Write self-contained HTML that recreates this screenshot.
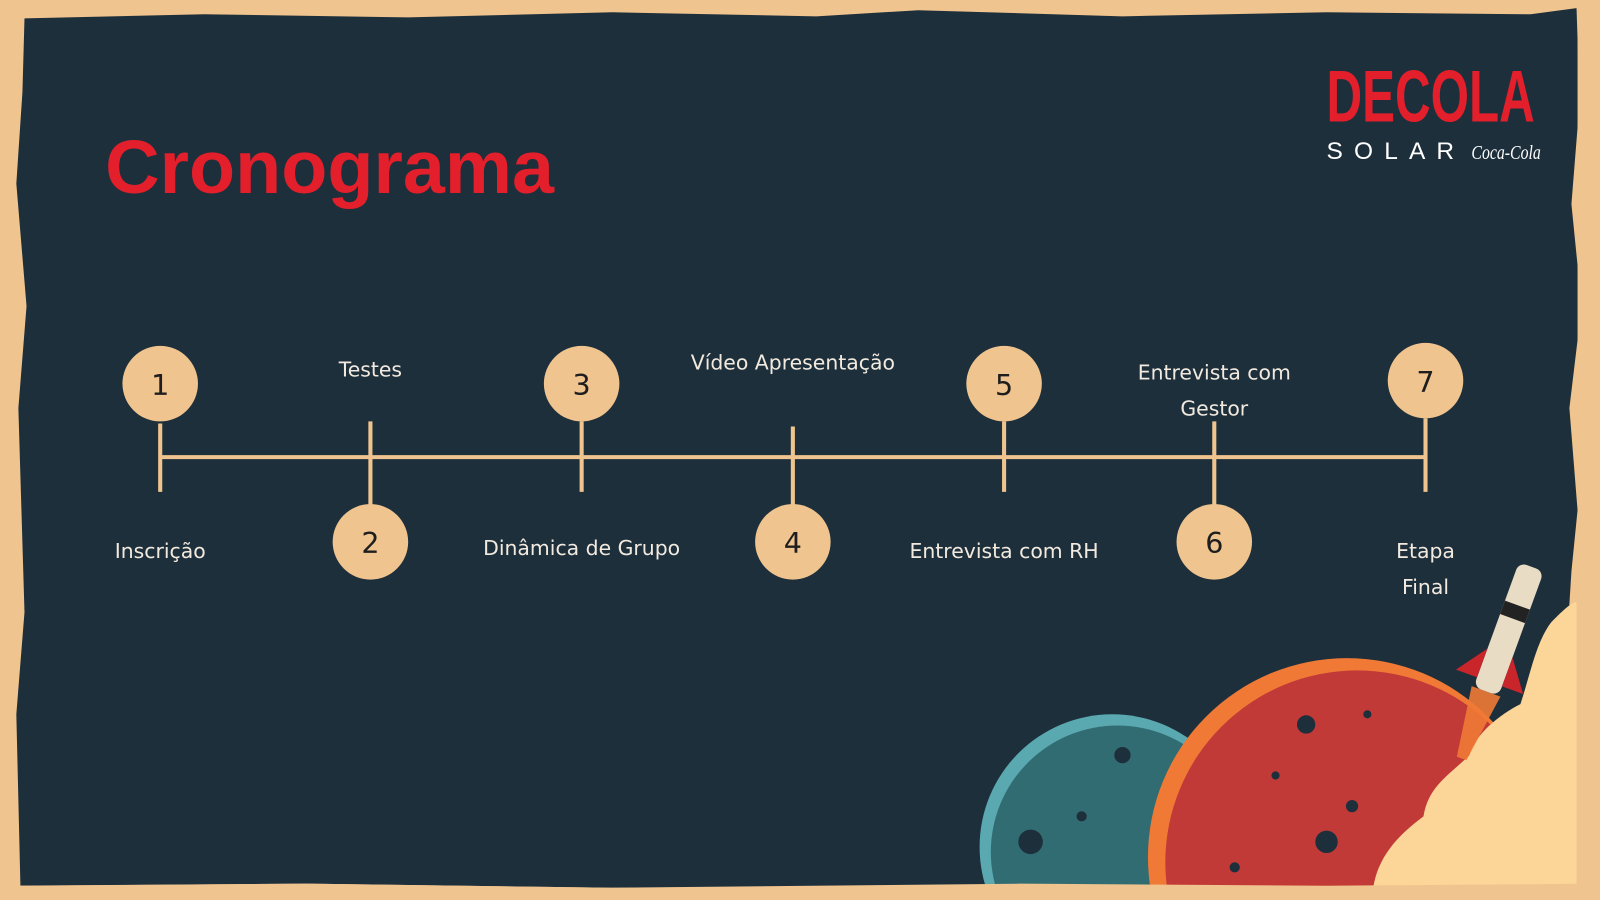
<!DOCTYPE html>
<html><head><meta charset="utf-8"><style>
html,body{margin:0;padding:0;background:#f0c48e;width:1600px;height:900px;overflow:hidden;position:relative;}
svg{display:block;position:absolute;left:0;top:0;overflow:hidden}
text{font-family:"DejaVu Sans","Liberation Sans",sans-serif;}
</style></head><body>
<svg width="1600" height="900" viewBox="0 0 1568 882" preserveAspectRatio="none" xmlns="http://www.w3.org/2000/svg">
<defs><clipPath id="c"><rect width="1568" height="882"/></clipPath></defs>
<g clip-path="url(#c)">
<rect width="1568" height="882" fill="#f0c48e"/>
<path d="M24,18 L200,14 L400,17 L600,12 L800,16 L900,10 L1100,16 L1300,12 L1500,14 L1545,8 L1548,100 L1540,200 L1550,300 L1538,400 L1546,500 L1540,560 L1520,880 L1300,870 L1000,868 L600,870 L300,866 L20,868 L16,700 L24,600 L18,400 L26,300 L16,180 L22,90 Z" fill="#1e2f3c"/>
<text x="103" y="189" font-weight="bold" font-size="74" fill="#e31f2b" style="font-family:'Liberation Sans',sans-serif">Cronograma</text>
<text x="1300" y="119" font-size="72" font-weight="bold" fill="#e31f2b" textLength="204" lengthAdjust="spacingAndGlyphs" style="font-family:'Liberation Sans',sans-serif">DECOLA</text>
<text x="1300" y="156" font-size="24" fill="#fff" textLength="125" lengthAdjust="spacing" style="font-family:'Liberation Sans',sans-serif">SOLAR</text>
<text x="1442" y="156" font-size="20" font-style="italic" fill="#fff" textLength="68" lengthAdjust="spacingAndGlyphs" style="font-family:'Liberation Serif',serif">Coca‑Cola</text>
<g stroke="#f0c48e" stroke-width="4">
<line x1="157" y1="448" x2="1397" y2="448"/>
<line x1="157" y1="415" x2="157" y2="482"/>
<line x1="363" y1="413" x2="363" y2="495"/>
<line x1="570" y1="413" x2="570" y2="482"/>
<line x1="777" y1="418" x2="777" y2="495"/>
<line x1="984" y1="413" x2="984" y2="482"/>
<line x1="1190" y1="413" x2="1190" y2="495"/>
<line x1="1397" y1="410" x2="1397" y2="482"/>
</g>
<g fill="#f0c48e">
<circle cx="157" cy="376" r="37"/><circle cx="363" cy="531" r="37"/>
<circle cx="570" cy="376" r="37"/><circle cx="777" cy="531" r="37"/>
<circle cx="984" cy="376" r="37"/><circle cx="1190" cy="531" r="37"/>
<circle cx="1397" cy="373" r="37"/>
</g>
<g font-size="28" fill="#1e1e1e" text-anchor="middle">
<text x="157" y="387">1</text><text x="363" y="542">2</text><text x="570" y="387">3</text>
<text x="777" y="542">4</text><text x="984" y="387">5</text><text x="1190" y="542">6</text><text x="1397" y="384">7</text>
</g>
<g font-size="20" fill="#f2eadf" text-anchor="middle">
<text x="157" y="547">Inscrição</text>
<text x="363" y="369">Testes</text>
<text x="570" y="544">Dinâmica de Grupo</text>
<text x="777" y="362">Vídeo Apresentação</text>
<text x="984" y="547">Entrevista com RH</text>
<text x="1190" y="372">Entrevista com</text>
<text x="1190" y="407">Gestor</text>
<text x="1397" y="547">Etapa</text>
<text x="1397" y="582">Final</text>
</g>
<circle cx="1090" cy="830" r="130" fill="#5aa8b0"/>
<circle cx="1095" cy="835" r="124" fill="#316c72"/>
<circle cx="1320" cy="840" r="195" fill="#f07a35"/>
<circle cx="1330" cy="845" r="188" fill="#c23a38"/>
<g fill="#1e2f3c">
<circle cx="1010" cy="825" r="12"/><circle cx="1100" cy="740" r="8"/><circle cx="1060" cy="800" r="5"/>
<circle cx="1280" cy="710" r="9"/><circle cx="1325" cy="790" r="6"/><circle cx="1300" cy="825" r="11"/>
<circle cx="1250" cy="760" r="4"/><circle cx="1340" cy="700" r="4"/><circle cx="1210" cy="850" r="5"/>
</g>
<path d="M1345,882 C1345,840 1375,815 1395,800 C1400,770 1420,760 1440,740 C1445,720 1470,700 1490,690 C1500,660 1505,630 1520,610 C1530,600 1540,590 1545,590 L1545,882 Z" fill="#fbd698"/>
<g transform="translate(1470,640) rotate(20)">
<path d="M-15,40 L-5,110 L5,110 L15,40 Z" fill="#f07a35" opacity="0.9"/>
<rect x="-13" y="-90" width="26" height="130" rx="8" fill="#e9dcc4"/>
<rect x="-13" y="-50" width="26" height="14" fill="#222"/>
<path d="M-13,0 L-35,30 L-13,30 Z M13,0 L35,30 L13,30 Z" fill="#c8262b"/>
</g>
<path d="M0,882 L0,868 L300,866 L600,870 L1000,866 L1300,868 L1568,866 L1568,882 Z" fill="#f0c48e"/>
<rect x="1546" y="0" width="22" height="882" fill="#f0c48e"/>
</g>
</svg>
</body></html>
